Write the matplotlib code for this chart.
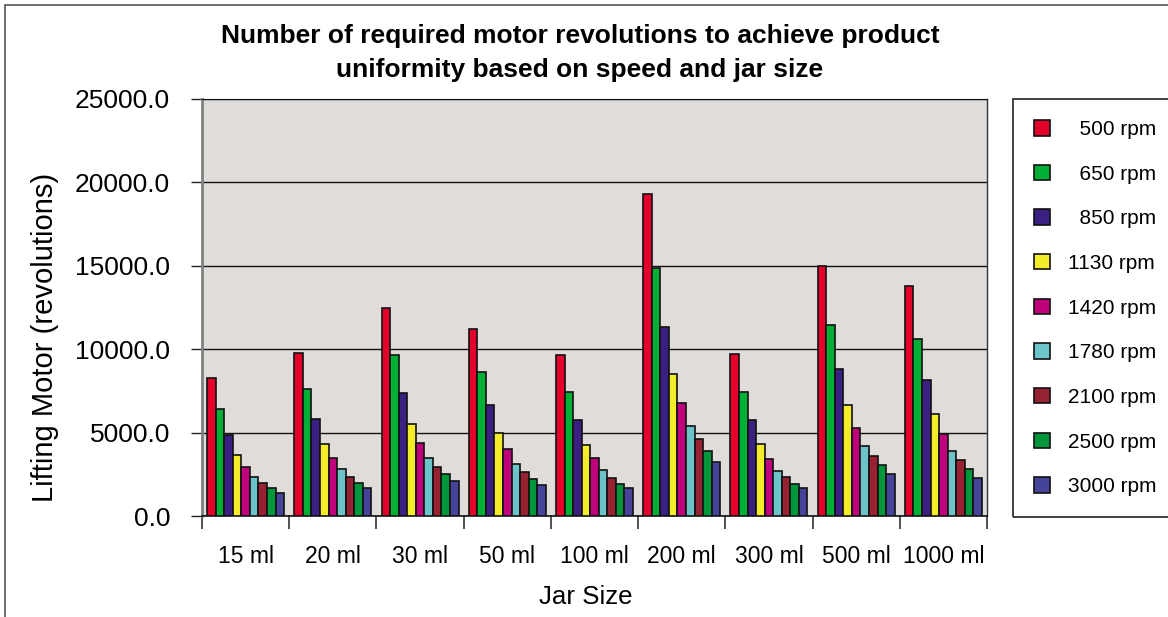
import matplotlib
matplotlib.use("Agg")
import matplotlib.pyplot as plt
from matplotlib.patches import Rectangle
import numpy as np

categories = ["15 ml", "20 ml", "30 ml", "50 ml", "100 ml", "200 ml", "300 ml", "500 ml", "1000 ml"]
series_names = ["500 rpm", "650 rpm", "850 rpm", "1130 rpm", "1420 rpm",
                "1780 rpm", "2100 rpm", "2500 rpm", "3000 rpm"]
legend_labels = ["  500 rpm", "  650 rpm", "  850 rpm", "1130 rpm", "1420 rpm",
                 "1780 rpm", "2100 rpm", "2500 rpm", "3000 rpm"]

# values per series (one list per rpm), across jar sizes
rpm_500  = [8300, 9800, 12500, 11240, 9680, 19280, 9740, 14960, 13760]
rpm_650  = [6400, 7600, 9640, 8660, 7460, 14840, 7460, 11480, 10600]
rpm_850  = [4860, 5800, 7360, 6640, 5740, 11360, 5740, 8800, 8140]
rpm_1130 = [3660, 4340, 5540, 5000, 4280, 8540, 4320, 6640, 6100]
rpm_1420 = [2960, 3500, 4400, 4000, 3460, 6800, 3440, 5300, 4900]
rpm_1780 = [2360, 2800, 3500, 3140, 2740, 5400, 2700, 4220, 3880]
rpm_2100 = [2000, 2360, 2960, 2660, 2300, 4600, 2360, 3580, 3360]
rpm_2500 = [1700, 2000, 2540, 2240, 1940, 3880, 1940, 3040, 2800]
rpm_3000 = [1400, 1660, 2100, 1860, 1660, 3260, 1660, 2500, 2300]

series = [rpm_500, rpm_650, rpm_850, rpm_1130, rpm_1420, rpm_1780, rpm_2100, rpm_2500, rpm_3000]
colors = ["#E3002B", "#00B036", "#3A2080", "#F3EC2A", "#C0007A",
          "#6CC4C8", "#962232", "#00963C", "#45439A"]

FONT = ["Liberation Sans", "DejaVu Sans"]

W, H = 1168, 617
fig = plt.figure(figsize=(W / 100, H / 100), dpi=100)
fig.patch.set_facecolor("white")

left, right, top, bottom = 202, 987, 99, 516
ax = fig.add_axes([left / W, 1 - bottom / H, (right - left) / W, (bottom - top) / H])
ax.set_facecolor("#E0DCDA")

n = len(series)
bw = 0.098
x = np.arange(len(categories))
for i, (vals, c, lab) in enumerate(zip(series, colors, legend_labels)):
    ax.bar(x + (i - (n - 1) / 2) * bw, vals, width=bw, color=c,
           edgecolor="#111111", linewidth=1.2, label=lab, zorder=3)

ax.set_xlim(-0.5, len(categories) - 0.5)
ax.set_ylim(0, 25000)
ax.set_yticks(np.arange(0, 25001, 5000))
ax.set_yticklabels([f"{v:.1f}" for v in np.arange(0, 25001, 5000)])
ax.yaxis.grid(True, color="#111111", linewidth=1.0, zorder=1)
ax.set_axisbelow(True)

ax.set_xticks(x)
ax.set_xticklabels(categories)
ax.set_xticks(np.arange(-0.5, len(categories), 1.0), minor=True)
ax.tick_params(axis="x", which="major", length=0, pad=21, labelsize=16.5)
ax.tick_params(axis="x", which="minor", length=9.5, width=1.2, color="#333333", direction="out")
ax.tick_params(axis="y", length=8, width=1.0, color="#222222", direction="out", labelsize=19, pad=15)

for t in ax.get_xticklabels() + ax.get_yticklabels():
    t.set_family(FONT)

ax.spines["left"].set_color("#808080")
ax.spines["left"].set_linewidth(2.0)
ax.spines["bottom"].set_color("#111111")
ax.spines["bottom"].set_linewidth(1.2)
ax.spines["top"].set_color("#111111")
ax.spines["right"].set_color("#333333")
ax.spines["right"].set_linewidth(1.0)

ax.set_ylabel("Lifting Motor (revolutions)", fontsize=21, family=FONT)
ax.yaxis.set_label_coords((59 - left) / (right - left), (bottom - 337) / (bottom - top))
ax.set_xlabel("Jar Size", fontsize=18.6, family=FONT)
ax.xaxis.set_label_coords((586 - left) / (right - left), (bottom - 585) / (bottom - top))

fig.text(580 / W, 1 - 53 / H,
         "Number of required motor revolutions to achieve product\nuniformity based on speed and jar size",
         ha="center", va="center", fontsize=19, fontweight="bold", linespacing=1.5,
         family=FONT)

# outer chart frame (cropped on right and bottom)
fig.patches.append(Rectangle((5 / W, -0.1), 1.2, 1 - 5 / H + 0.1, transform=fig.transFigure,
                             fill=False, edgecolor="#555555", linewidth=1.2))
# legend frame (cropped on right)
fig.patches.append(Rectangle((1013 / W, 1 - 517 / H), 0.3, (517 - 99) / H, transform=fig.transFigure,
                             fill=False, edgecolor="#222222", linewidth=1.2))

leg = fig.legend(loc="upper left", bbox_to_anchor=(1034 / W, 1 - 120 / H), frameon=False,
                 prop={"family": FONT, "size": 15},
                 handlelength=0.77, handleheight=0.77, handletextpad=0.87, labelspacing=1.23,
                 borderaxespad=0, borderpad=0)

fig.savefig("out.png", dpi=100)
